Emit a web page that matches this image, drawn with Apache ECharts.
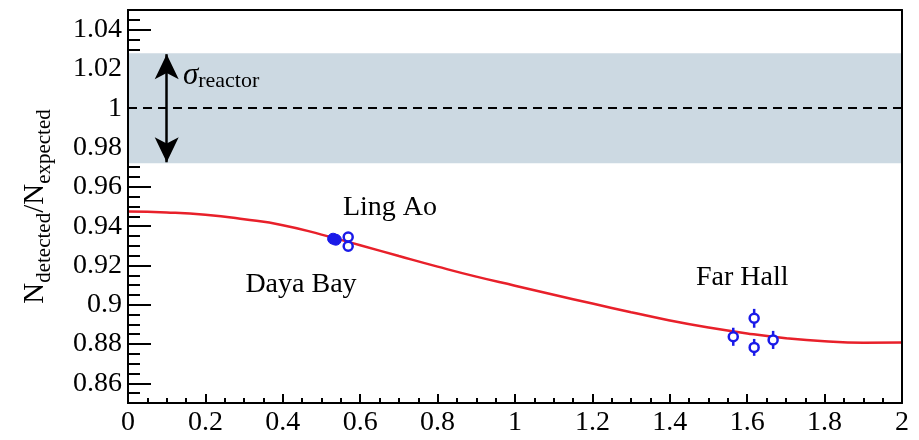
<!DOCTYPE html>
<html>
<head>
<meta charset="utf-8">
<script src="https://cdn.jsdelivr.net/npm/echarts@6/dist/echarts.min.js"></script>
<style>html,body{margin:0;padding:0;background:#fff;}#c{width:919px;height:440px;}</style>
</head>
<body>
<div id="c"></div>
<script>
// ---- data ----
const xTickLabels = [0, 0.2, 0.4, 0.6, 0.8, 1, 1.2, 1.4, 1.6, 1.8, 2];
const yTickLabels = [0.86, 0.88, 0.9, 0.92, 0.94, 0.96, 0.98, 1, 1.02, 1.04];
const curveX = [0, 0.1, 0.2, 0.3, 0.4, 0.5, 0.6, 0.7, 0.8, 0.9, 1.0, 1.1, 1.2, 1.3, 1.4, 1.5, 1.6, 1.7, 1.8, 1.9, 2.0];
const curveY = [0.9475, 0.947, 0.9458, 0.9435, 0.9405, 0.9357, 0.9303, 0.9248, 0.9194, 0.9143, 0.9097, 0.9051, 0.9006, 0.8962, 0.892, 0.8884, 0.8854, 0.883, 0.8814, 0.8807, 0.8808];
const dayaBayX = [0.530, 0.537];
const dayaBayY = [0.9336, 0.9331];
const dayaBayErr = [0.0015, 0.0015];
const lingAoX = [0.569, 0.569];
const lingAoY = [0.9345, 0.9298];
const lingAoErr = [0.0015, 0.0015];
const farX = [1.564, 1.618, 1.618, 1.667];
const farY = [0.8837, 0.8931, 0.8783, 0.8821];
const farErr = [0.0046, 0.0048, 0.0043, 0.0046];
const bandLow = 0.972, bandHigh = 1.028;
const arrowX = 0.1, arrowLow = 0.9725, arrowHigh = 1.0275;
const textLabels = [
  {name: 'Ling Ao', x: 0.677, y: 0.9492},
  {name: 'Daya Bay', x: 0.447, y: 0.910},
  {name: 'Far Hall', x: 1.587, y: 0.914}
];
const sigmaPos = [0.142, 1.0165];

// ---- build ----
const FONT = 'Liberation Serif';
const BLUE = '#1a1ae8';
const TXT = '#000';
const curve = curveX.map((x, i) => [x, curveY[i]]);
const allPts = [];
dayaBayX.forEach((x, i) => allPts.push([x, dayaBayY[i], dayaBayErr[i]]));
lingAoX.forEach((x, i) => allPts.push([x, lingAoY[i], lingAoErr[i]]));
farX.forEach((x, i) => allPts.push([x, farY[i], farErr[i]]));
const openPts = allPts.slice(dayaBayX.length);
const filledPts = allPts.slice(0, dayaBayX.length);

const chart = echarts.init(document.getElementById('c'));
const option = {
  animation: false,
  backgroundColor: '#fff',
  grid: {left: 128, right: 17, top: 10, bottom: 37, containLabel: false},
  xAxis: [
    {type: 'value', min: 0, max: 2, interval: 0.2,
     axisLine: {show: true, lineStyle: {color: '#000', width: 2}},
     axisTick: {show: true, inside: true, length: 9, lineStyle: {color: '#000', width: 2}},
     minorTick: {show: true, splitNumber: 4, length: 5, lineStyle: {color: '#000', width: 2}},
     splitLine: {show: false},
     axisLabel: {show: true, margin: 6, color: TXT, fontFamily: FONT, fontSize: 28,
       customValues: xTickLabels, formatter: v => String(+v.toFixed(2))}
    },
    {type: 'value', min: 0, max: 2, position: 'top', z: 10,
     axisLine: {show: true, onZero: false, lineStyle: {color: '#000', width: 2}},
     axisTick: {show: false}, axisLabel: {show: false}, splitLine: {show: false}}
  ],
  yAxis: [
    {type: 'value', min: 0.85, max: 1.05,
     axisLine: {show: true, onZero: false, lineStyle: {color: '#000', width: 2}},
     axisTick: {show: true, inside: true, length: 23, customValues: yTickLabels, lineStyle: {color: '#000', width: 2}},
     splitLine: {show: false},
     axisLabel: {show: true, margin: 6, color: TXT, fontFamily: FONT, fontSize: 28,
       customValues: yTickLabels, formatter: v => String(+v.toFixed(2))},
     name: '{n|N}{s|detected}{n|/N}{s|expected}',
     nameLocation: 'middle', nameGap: 76,
     nameTextStyle: {fontFamily: FONT, color: TXT,
       rich: {
         n: {fontFamily: FONT, fontSize: 29, color: TXT, verticalAlign: 'top', lineHeight: 31},
         s: {fontFamily: FONT, fontSize: 21, color: TXT, verticalAlign: 'top', lineHeight: 31, padding: [13, 0, 0, 0]}
       }}
    },
    {type: 'value', min: 0.85, max: 1.05, interval: 0.005, position: 'left',
     axisLine: {show: false}, splitLine: {show: false}, axisLabel: {show: false},
     axisTick: {show: true, inside: true, length: 12, lineStyle: {color: '#000', width: 2}}},
    {type: 'value', min: 0.85, max: 1.05, position: 'right', z: 10,
     axisLine: {show: true, onZero: false, lineStyle: {color: '#000', width: 2}},
     axisTick: {show: false}, axisLabel: {show: false}, splitLine: {show: false}},
    {type: 'value', min: 0.85, max: 1.05, position: 'left', z: 10,
     axisLine: {show: true, onZero: false, lineStyle: {color: '#000', width: 2}},
     axisTick: {show: false}, axisLabel: {show: false}, splitLine: {show: false}}
  ],
  series: [
    {type: 'line', data: [], z: 1, silent: true,
     markArea: {silent: true, itemStyle: {color: '#ccd9e2', opacity: 1},
       data: [[{coord: [0, bandLow]}, {coord: [2, bandHigh]}]]}},
    {type: 'line', data: [], z: 3, silent: true,
     markLine: {silent: true, symbol: 'none', label: {show: false},
       lineStyle: {color: '#000', width: 2, type: [9, 6]},
       data: [[{coord: [0, 1]}, {coord: [2, 1]}]]}},
    {type: 'line', data: [], z: 4, silent: true,
     markLine: {silent: true, symbol: ['arrow', 'arrow'], symbolSize: [18, 25], label: {show: false},
       lineStyle: {color: '#000', width: 2.5, type: 'solid', opacity: 1},
       itemStyle: {color: '#000'},
       data: [[{coord: [arrowX, arrowLow]}, {coord: [arrowX, arrowHigh]}]]}},
    {type: 'line', data: curve, smooth: true, showSymbol: false, z: 5,
     lineStyle: {color: '#e8202a', width: 2.5}},
    {type: 'custom', z: 6, data: allPts,
     renderItem: (params, api) => {
       const x = api.value(0), y = api.value(1), e = api.value(2);
       const p1 = api.coord([x, y - e]), p2 = api.coord([x, y + e]);
       return {type: 'line', shape: {x1: p1[0], y1: p1[1], x2: p2[0], y2: p2[1]},
         style: {stroke: BLUE, lineWidth: 2.5}};
     }},
    {type: 'scatter', z: 7, data: openPts, symbol: 'circle', symbolSize: 9,
     itemStyle: {color: '#fff', borderColor: BLUE, borderWidth: 2.5, opacity: 1}},
    {type: 'scatter', z: 7, data: filledPts, symbol: 'circle', symbolSize: 11,
     itemStyle: {color: BLUE, borderColor: BLUE, borderWidth: 1, opacity: 1}},
    {type: 'scatter', z: 8, symbolSize: 0, silent: true, itemStyle: {opacity: 1},
     data: textLabels.map(t => ({name: t.name, value: [t.x, t.y]})),
     label: {show: true, position: 'inside', formatter: p => p.name,
       fontFamily: FONT, fontSize: 28, color: TXT, textBorderWidth: 0}},
    {type: 'scatter', z: 8, symbolSize: 0, silent: true, itemStyle: {opacity: 1},
     data: [{name: 'sigma', value: sigmaPos}],
     label: {show: true, position: 'right', distance: 0, textBorderWidth: 0,
       formatter: '{g|σ}{r|reactor}',
       rich: {
         g: {fontFamily: FONT, fontStyle: 'italic', fontSize: 31, color: TXT, verticalAlign: 'top', lineHeight: 31},
         r: {fontFamily: FONT, fontSize: 22, color: TXT, verticalAlign: 'top', lineHeight: 31, padding: [10, 0, 0, 0]}
       }}}
  ]
};
chart.setOption(option);
</script>
</body>
</html>
